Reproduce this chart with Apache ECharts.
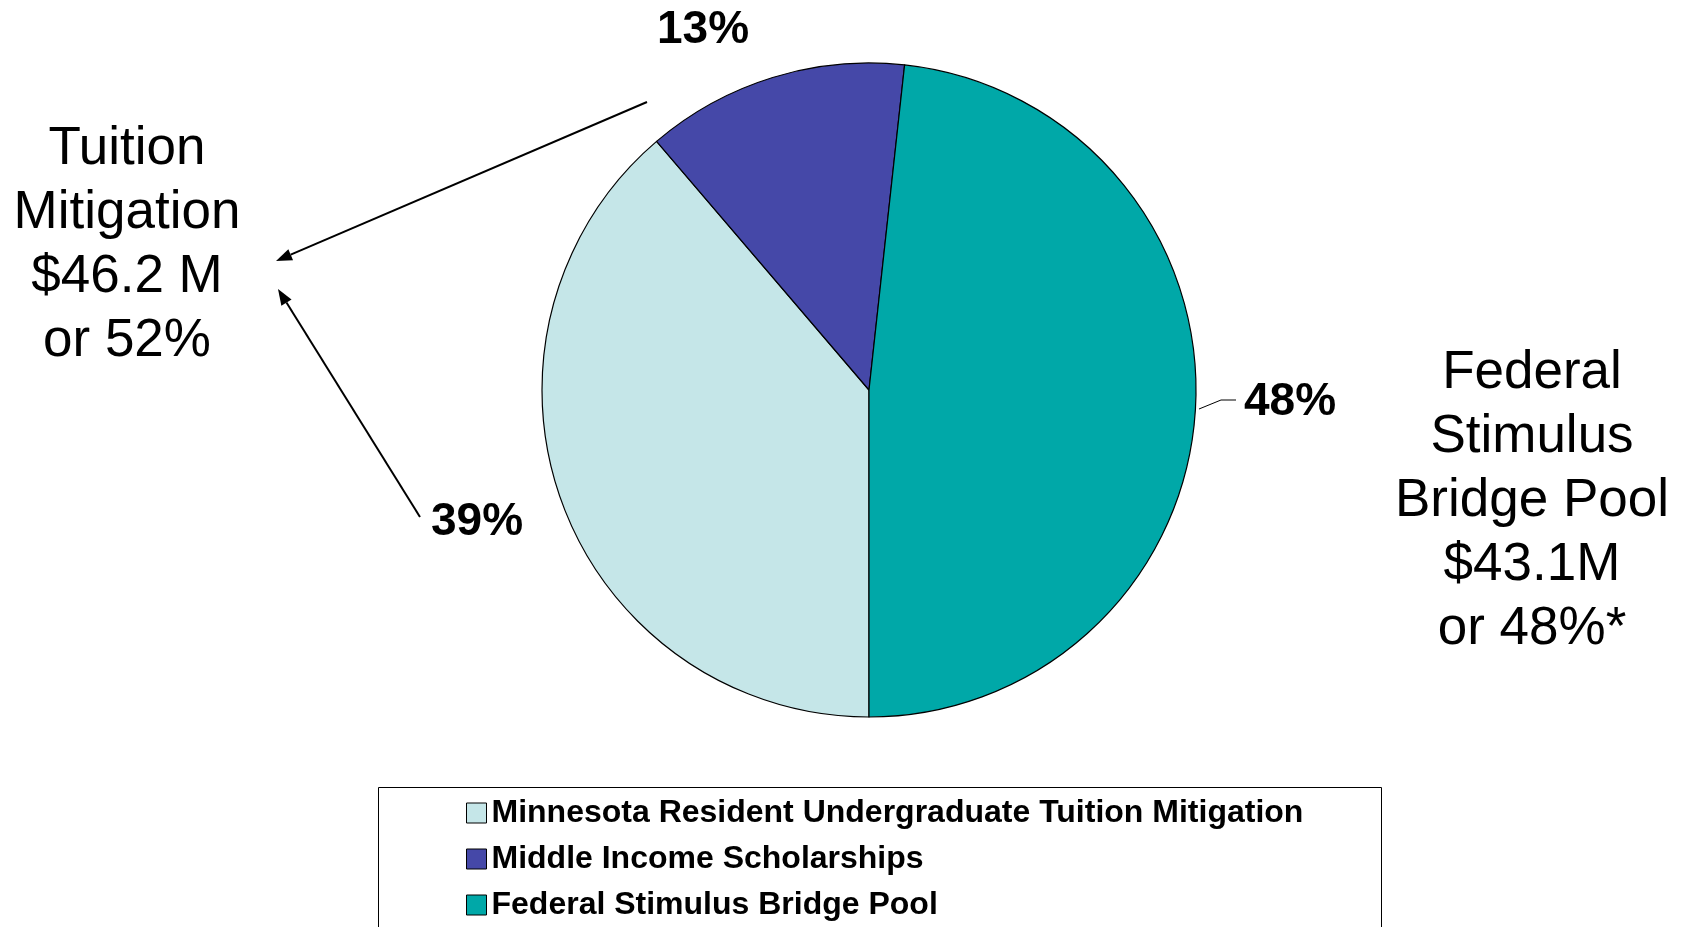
<!DOCTYPE html>
<html>
<head>
<meta charset="utf-8">
<script src="https://cdn.jsdelivr.net/npm/echarts@6/dist/echarts.min.js"></script>
<style>
  html, body { margin: 0; padding: 0; background: #fff; }
  #pie-chart { width: 1682px; height: 927px; }
</style>
</head>
<body>
<div id="pie-chart"></div>
<script>
// Data ($ millions)
const categories = [
    'Minnesota Resident Undergraduate Tuition Mitigation',
    'Middle Income Scholarships',
    'Federal Stimulus Bridge Pool'
];
const amounts = [34.6, 11.6, 43.1];
const sliceColors = ['#c5e6e8', '#4548a8', '#00a8a8'];

const leftNote = ['Tuition', 'Mitigation', '$46.2 M', 'or 52%'];
const rightNote = ['Federal', 'Stimulus', 'Bridge Pool', '$43.1M', 'or 48%*'];

const FONT = '"Liberation Sans", Arial, sans-serif';

let pieChart = echarts.init(document.getElementById('pie-chart'));

// arrow = line + filled head
function arrow(x1, y1, x2, y2) {
    let ang = Math.atan2(y2 - y1, x2 - x1);
    let len = 16, half = 6;
    let bx = x2 - len * Math.cos(ang), by = y2 - len * Math.sin(ang);
    let px = -Math.sin(ang) * half, py = Math.cos(ang) * half;
    return [{
        type: 'line',
        shape: { x1: x1, y1: y1, x2: bx, y2: by },
        style: { stroke: '#000', lineWidth: 2 }
    }, {
        type: 'polygon',
        shape: { points: [[x2, y2], [bx + px, by + py], [bx - px, by - py]] },
        style: { fill: '#000' }
    }];
}

// where each slice label sits
const labelSpots = [
    { x: 477, y: 522 },
    { x: 703, y: 30 },
    { x: 1290, y: 402, line: [[1199, 409], [1221, 400], [1236, 400]] }
];

let option = {
    animation: false,
    color: sliceColors,

    legend: {
        orient: 'vertical',
        left: 466,
        top: 795,
        padding: 0,
        itemWidth: 20,
        itemHeight: 20,
        itemGap: 10,
        icon: 'rect',
        itemStyle: { borderColor: '#000', borderWidth: 1 },
        textStyle: {
            fontFamily: FONT,
            fontSize: 32,
            fontWeight: 'bold',
            color: '#000',
            lineHeight: 36
        },
        data: categories
    },

    graphic: [
        {
            type: 'rect',
            shape: { x: 378.5, y: 787.5, width: 1003, height: 160 },
            style: { fill: 'none', stroke: '#000', lineWidth: 1 },
            z: -1
        },
        {
            type: 'text',
            x: 127, y: 117,
            style: {
                text: leftNote.join('\n'),
                font: '53px ' + FONT,
                lineHeight: 64,
                textAlign: 'center',
                fill: '#000'
            }
        },
        {
            type: 'text',
            x: 1532, y: 341,
            style: {
                text: rightNote.join('\n'),
                font: '53px ' + FONT,
                lineHeight: 64,
                textAlign: 'center',
                fill: '#000'
            }
        }
    ].concat(arrow(647, 102, 276, 261), arrow(420, 517, 278, 289)),

    series: [{
        name: 'Funding',
        type: 'pie',
        center: [869, 390],
        radius: [0, 327],
        startAngle: 270,
        clockwise: true,
        itemStyle: { borderColor: '#000', borderWidth: 1.2 },
        emphasis: { disabled: true },
        label: {
            show: true,
            position: 'outside',
            fontFamily: FONT,
            fontSize: 46,
            fontWeight: 'bold',
            color: '#000',
            formatter: function(p) {
                return Math.round(p.percent) + '%';
            }
        },
        labelLine: { show: false },
        labelLayout: function(params) {
            let s = labelSpots[params.dataIndex];
            let out = { x: s.x, y: s.y, align: 'center', verticalAlign: 'middle' };
            if (s.line) {
                out.labelLinePoints = s.line;
            }
            return out;
        },
        data: categories.map(function(name, i) {
            let item = { name: name, value: amounts[i] };
            if (i === 2) {
                item.labelLine = { show: true, lineStyle: { color: '#000', width: 1 } };
            }
            return item;
        })
    }]
};

pieChart.setOption(option);

window.addEventListener('resize', function() {
    pieChart.resize();
});
</script>
</body>
</html>
